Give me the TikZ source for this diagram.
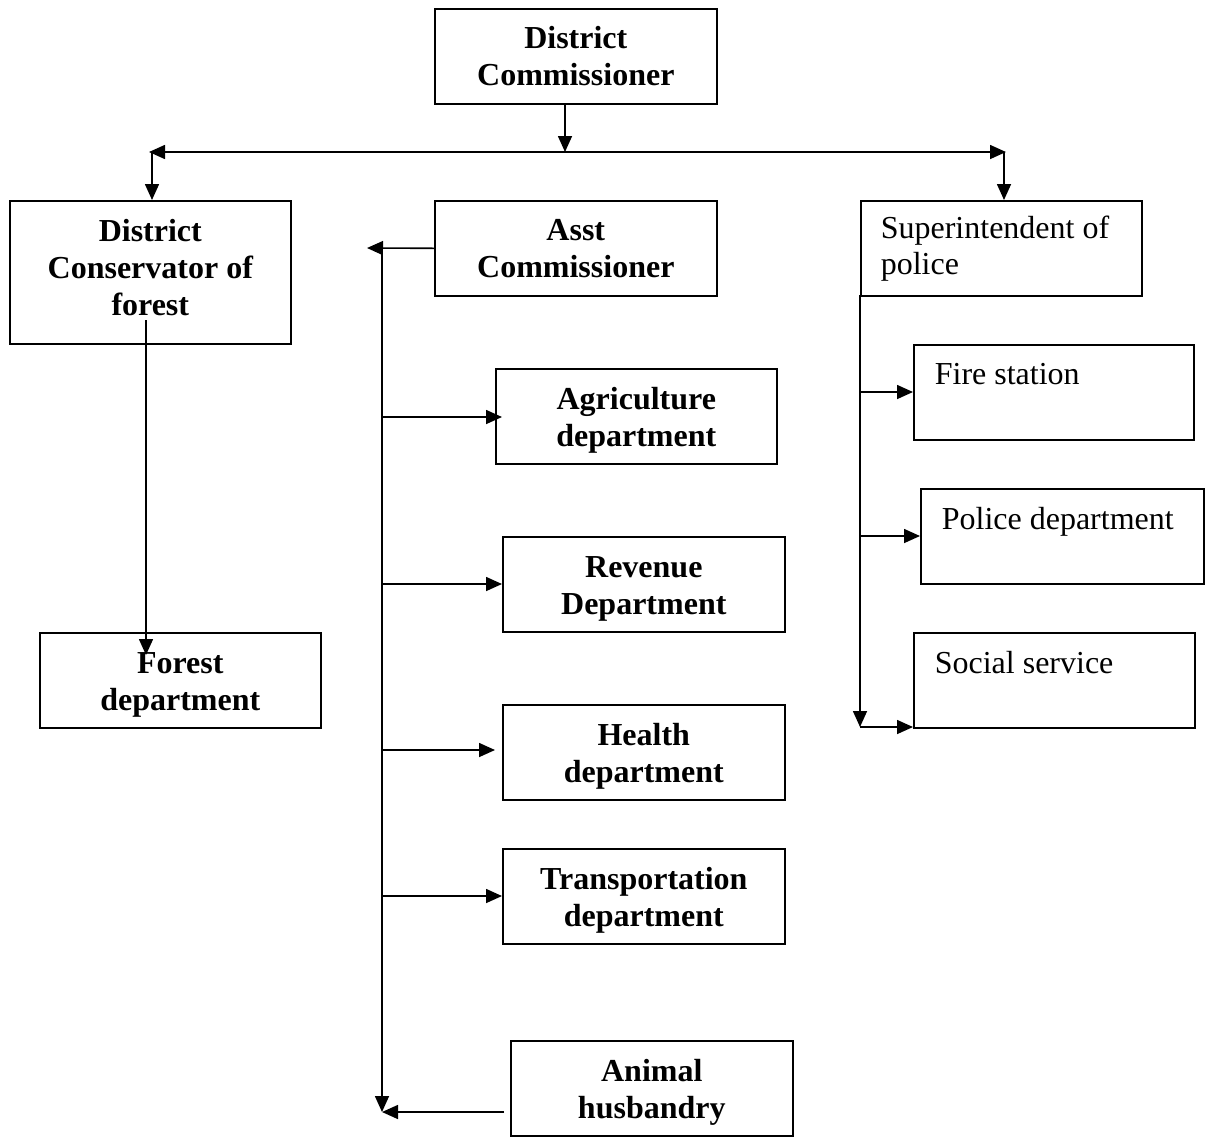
\documentclass[tikz,border=0pt]{standalone}
\usepackage{fontspec}
\setmainfont{Liberation Serif}
\usetikzlibrary{arrows.meta}
\newcommand\tallstrut{\rule{0pt}{31pt}}
\newcommand\deepstrut{\rule[-10pt]{0pt}{10pt}}
\begin{document}
\begin{tikzpicture}[x=1pt,y=-1pt,
  mybox/.style={draw, line width=1.6pt, inner sep=0pt, anchor=north west, minimum height=95pt},
  bbox/.style={mybox, font=\bfseries\fontsize{32}{37}\selectfont, align=center},
  lbox/.style={mybox, font=\fontsize{32}{36}\selectfont, align=flush left, inner xsep=21pt},
  conn/.style={line width=1.6pt},
  arr/.style={conn, -{Triangle[length=16pt,width=14pt]}},
  darr/.style={conn, {Triangle[length=16pt,width=14pt]}-{Triangle[length=16pt,width=14pt]}}]
\useasboundingbox (0,0) rectangle (1209,1141);
% boxes
\node[bbox, minimum width=282pt] (dc) at (434,8) {District\\Commissioner};
\node[bbox, minimum width=281pt, minimum height=143pt] (dcf) at (9,200) {District\\Conservator of\\forest\deepstrut};
\node[bbox, minimum width=282pt] (ac) at (434,200) {Asst\\Commissioner};
\node[lbox, minimum width=281pt, text width=241pt, inner xsep=20pt] (sp) at (860,200) {Superintendent of\\police};
\node[bbox, minimum width=281pt] (fd) at (39,632) {\tallstrut Forest\\department};
\node[bbox, minimum width=281pt] (agri) at (495,368) {\tallstrut Agriculture\\department};
\node[bbox, minimum width=282pt] (rev) at (502,536) {\tallstrut Revenue\\Department};
\node[bbox, minimum width=282pt] (health) at (502,704) {\tallstrut Health\\department};
\node[bbox, minimum width=282pt] (trans) at (502,848) {\tallstrut Transportation\\department};
\node[bbox, minimum width=282pt] (animal) at (510,1040) {\tallstrut Animal\\husbandry};
\node[lbox, minimum width=280pt, text width=238pt] (fire) at (913,344) {Fire station\\\mbox{}};
\node[lbox, minimum width=283pt, text width=241pt] (police) at (920,488) {Police department\\\mbox{}};
\node[lbox, minimum width=281pt, text width=239pt] (social) at (913,632) {Social service\\\mbox{}};
% coordinates
\coordinate (dcout) at (565,103);
\coordinate (hmid) at (565,152);
\coordinate (hl) at (152,152);
\coordinate (hr) at (1004,152);
\coordinate (hlend) at (149,152);
\coordinate (hrend) at (1006,152);
\coordinate (fstart) at (146,320);
\coordinate (ftip) at (146,655);
\coordinate (actip) at (367,248);
\coordinate (vtop) at (382,248);
\coordinate (vbot) at (382,1112);
\coordinate (anout) at (504,1112);
\coordinate (spbot) at (860,295);
\coordinate (spend) at (860,727);
% connectors
\draw[arr] (dcout) -- (hmid);
\draw[darr] (hlend) -- (hrend);
\draw[arr] (hl) -- (hl |- dcf.north);
\draw[arr] (hr) -- (hr |- sp.north);
\draw[arr] (fstart) -- (ftip);
\draw[arr] (ac.west) -- (actip);
\draw[arr] (vtop) -- (vbot);
\draw[arr] (anout) -- (vbot);
\draw[arr] (vtop |- 0,417) -- (502,417);
\draw[arr] (vtop |- 0,584) -- (rev.west |- 0,584);
\draw[arr] (vtop |- 0,750) -- (495,750);
\draw[arr] (vtop |- 0,896) -- (trans.west |- 0,896);
\draw[arr] (spbot) -- (spend);
\draw[arr] (spend) -- (spend -| social.west);
\draw[arr] (spbot |- 0,392) -- (fire.west |- 0,392);
\draw[arr] (spbot |- 0,536) -- (police.west |- 0,536);
\end{tikzpicture}
\end{document}
